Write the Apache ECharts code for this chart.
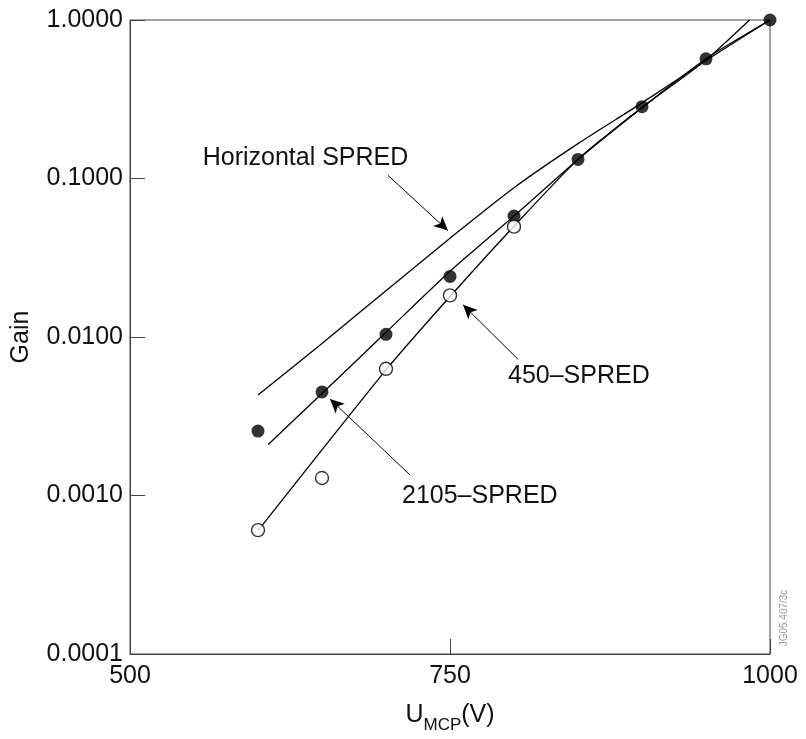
<!DOCTYPE html>
<html>
<head>
<meta charset="utf-8">
<style>
  html, body { margin: 0; padding: 0; background: #fff; }
  #chart { width: 806px; height: 739px; }
</style>
<script src="https://cdn.jsdelivr.net/npm/echarts@6/dist/echarts.min.js"></script>
</head>
<body>
<div id="chart"></div>
<script>
// Measured MCP gain (relative to 1000 V) versus MCP voltage
const voltages2105 = [600, 650, 700, 750, 800, 850, 900, 950, 1000];
const gain2105 = [0.00255, 0.0045, 0.0104, 0.0241, 0.058, 0.132, 0.284, 0.569, 1.0];

const voltages450 = [600, 650, 700, 750, 800];
const gain450 = [0.000605, 0.00129, 0.0063, 0.0183, 0.0497];

// Fitted curves
const fitHorizontalV = [600, 650, 700, 750, 800, 850, 900, 950, 1000];
const fitHorizontalGain = [0.0043, 0.0091, 0.0196, 0.042, 0.0875, 0.166, 0.30, 0.555, 1.0];

const fit2105V = [608, 650, 700, 750, 800, 850, 900, 950, 1000];
const fit2105Gain = [0.0021, 0.0044, 0.0107, 0.026, 0.058, 0.132, 0.28, 0.57, 1.0];

const fit450V = [600, 700, 750, 800, 850, 900, 950, 984];
const fit450Gain = [0.0006, 0.0062, 0.018, 0.050, 0.132, 0.28, 0.56, 1.0];

// Axis tick labels
const xTickLabels = ['500', '750', '1000'];
const yTickLabels = ['0.0001', '0.0010', '0.0100', '0.1000', '1.0000'];

// Curve labels with their arrows, in data units (voltage, gain)
const curveLabels = [
  { text: 'Horizontal SPRED', at: [556.8, 0.1336], from: [701.6, 0.1047], to: [748.4, 0.0469] },
  { text: '450\u2013SPRED', at: [795.3, 0.00567], from: [803.1, 0.00724], to: [760.2, 0.01595] },
  { text: '2105\u2013SPRED', at: [712.5, 0.000996], from: [718.75, 0.001348], to: [656.25, 0.00406] }
];

const zip = (xs, ys) => xs.map((x, i) => [x, ys[i]]);
const FONT = '"Liberation Sans", Arial, Helvetica, sans-serif';
const INK = '#111';
const FS = 25;

const chart = echarts.init(document.getElementById('chart'), null, { renderer: 'canvas' });

const lineStyle = { color: '#000', width: 1.3 };

chart.setOption({
  animation: false,
  backgroundColor: '#fff',
  textStyle: { fontFamily: FONT },
  grid: {
    left: 130, right: 36, top: 20, bottom: 78,
    show: true, borderColor: '#444', borderWidth: 1, backgroundColor: 'transparent'
  },
  xAxis: {
    type: 'value', min: 500, max: 1000, interval: 250,
    name: '{n|U}{s|MCP}{n|(V)}',
    nameLocation: 'middle', nameGap: 46,
    nameTextStyle: {
      rich: {
        n: { fontSize: FS, fontFamily: FONT, color: INK, lineHeight: 30 },
        s: { fontSize: 17, fontFamily: FONT, color: INK, lineHeight: 17, verticalAlign: 'bottom', padding: [0, 0, -4, 0] }
      }
    },
    axisLine: { show: true, lineStyle: { color: '#444', width: 1 } },
    axisTick: { show: true, inside: true, length: 15, lineStyle: { color: '#444' } },
    axisLabel: {
      margin: 10, fontSize: FS, color: INK, fontFamily: FONT,
      formatter: v => xTickLabels[Math.round((v - 500) / 250)]
    },
    splitLine: { show: false }
  },
  yAxis: {
    type: 'log', logBase: 10, min: 0.0001, max: 1,
    name: 'Gain', nameLocation: 'middle', nameGap: 96,
    nameTextStyle: { fontSize: FS, color: INK, fontFamily: FONT },
    axisLine: { show: true, lineStyle: { color: '#444', width: 1 } },
    axisTick: { show: true, inside: true, length: 15, lineStyle: { color: '#444' } },
    axisLabel: {
      margin: 7, fontSize: FS, color: INK, fontFamily: FONT,
      formatter: v => yTickLabels[Math.round(Math.log10(v)) + 4]
    },
    minorTick: { show: false },
    splitLine: { show: false }
  },
  series: [
    {
      name: 'Horizontal SPRED fit', type: 'line', data: zip(fitHorizontalV, fitHorizontalGain),
      showSymbol: false, smooth: 0.25, lineStyle, z: 2
    },
    {
      name: '2105-SPRED fit', type: 'line', data: zip(fit2105V, fit2105Gain),
      showSymbol: false, smooth: 0.2, lineStyle, z: 2
    },
    {
      name: '450-SPRED fit', type: 'line', data: zip(fit450V, fit450Gain),
      showSymbol: false, smooth: 0.2, lineStyle, z: 2
    },
    {
      name: '2105-SPRED', type: 'scatter', data: zip(voltages2105, gain2105),
      symbol: 'circle', symbolSize: 13, itemStyle: { color: '#000' }, z: 4
    },
    {
      name: '450-SPRED', type: 'scatter', data: zip(voltages450, gain450),
      symbol: 'circle', symbolSize: 13,
      itemStyle: { color: '#fff', borderColor: '#000', borderWidth: 1.4 }, z: 5
    },
    {
      name: 'annotations', type: 'line', data: [], silent: true,
      markLine: {
        silent: true, animation: false,
        symbol: ['none', 'arrow'], symbolSize: [10, 14],
        lineStyle: { color: '#000', width: 1, type: 'solid' },
        label: { show: false },
        data: curveLabels.map(c => [{ coord: c.from }, { coord: c.to }])
      }
    }
  ]
});

// Curve names and the drawing reference code
const texts = curveLabels.map(c => {
  const p = chart.convertToPixel({ gridIndex: 0 }, c.at);
  return {
    type: 'text', x: p[0], y: p[1], z: 10,
    style: { text: c.text, fill: INK, font: FS + 'px ' + FONT, verticalAlign: 'middle', align: 'left' }
  };
});
texts.push({
  type: 'text', x: 784, y: 618, rotation: Math.PI / 2, z: 10,
  style: { text: 'JG05.407/3c', fill: '#999', font: '10px ' + FONT, align: 'center', verticalAlign: 'middle' }
});
chart.setOption({ graphic: texts });
</script>
</body>
</html>
